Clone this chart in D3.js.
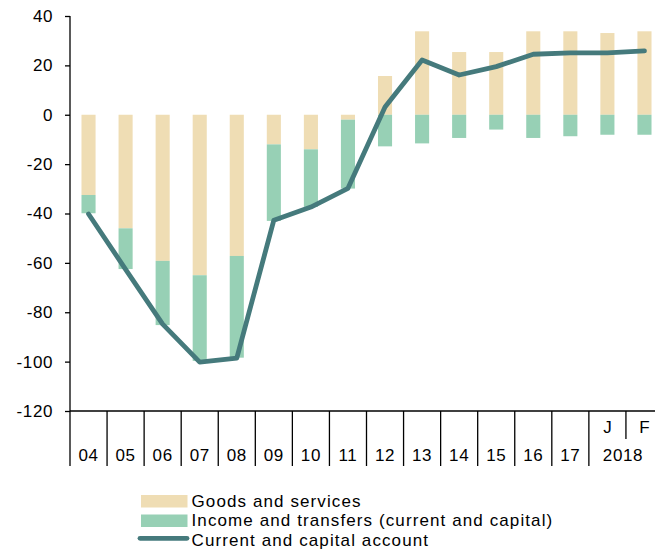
<!DOCTYPE html>
<html>
<head>
<meta charset="utf-8">
<script src="https://cdn.jsdelivr.net/npm/d3@7"></script>
<style>
  html, body { margin: 0; padding: 0; background: #fff; }
  svg { display: block; }
  text { font-family: "Liberation Sans", Arial, sans-serif; fill: #000; }
</style>
</head>
<body>
<svg id="chart" width="655" height="551"></svg>
<script>
const categories = ["04","05","06","07","08","09","10","11","12","13","14","15","16","17","J","F"];
const goods   = [-32.5,-46,-59.2,-65,-57.2,-12,-14,-2,15.7,33.8,25.4,25.4,33.8,33.8,33.1,33.8];
const income  = [-7.4,-16.5,-26,-34.7,-41.2,-31,-23.3,-27.9,-12.8,-11.6,-9.4,-6,-9.4,-8.7,-8.1,-8.1];
const current = [-40.2,-62.6,-84.8,-100.2,-98.6,-42.7,-37.4,-29.8,3.1,22.2,16.1,19.5,24.5,25.1,25.1,25.9];
const yTicks  = [40,20,0,-20,-40,-60,-80,-100,-120];
const yearLabels = ["04","05","06","07","08","09","10","11","12","13","14","15","16","17"];
const monthLabels = ["J","F"];
const groupLabel = "2018";
const seriesNames = ["Goods and services","Income and transfers (current and capital)","Current and capital account"];

const colGoods = "#EFDDB4", colIncome = "#97D0B5", colLine = "#457A7C";

const svg = d3.select("#chart");
const x0 = 70, x1 = 663, yTop = 16, yBot = 411;
const axFont = 17, axSpacing = 0.6;

const slot = d3.scaleBand().domain(categories).range([x0, x1]).padding(0);
const x = d3.scaleBand().domain(categories).range([x0, x1]).paddingInner(0.62).paddingOuter(0.31);
const y = d3.scaleLinear().domain([-120, 40]).range([yBot, yTop]);

const rows = categories.map((c, i) => ({cat: c, goods: goods[i], income: income[i]}));
const stack = d3.stack().keys(["goods","income"]).offset(d3.stackOffsetDiverging);
const layers = stack(rows);
const colors = {goods: colGoods, income: colIncome};

svg.append("g").selectAll("g").data(layers).join("g")
  .attr("fill", d => colors[d.key])
  .selectAll("rect").data(d => d).join("rect")
  .attr("x", d => x(d.data.cat))
  .attr("width", x.bandwidth())
  .attr("y", d => y(Math.max(d[0], d[1])))
  .attr("height", d => Math.abs(y(d[0]) - y(d[1])));

// line
const line = d3.line()
  .x((d, i) => x(categories[i]) + x.bandwidth() / 2)
  .y(d => y(d));
svg.append("path").datum(current)
  .attr("d", line)
  .attr("fill", "none")
  .attr("stroke", colLine)
  .attr("stroke-width", 4.8)
  .attr("stroke-linejoin", "round")
  .attr("stroke-linecap", "round");

// y axis
const yAxis = d3.axisLeft(y).tickValues(yTicks).tickSize(5).tickPadding(12).tickFormat(d => String(d));
const gy = svg.append("g").attr("transform", `translate(${x0},0)`).call(yAxis);
gy.select(".domain").remove();
gy.selectAll(".tick line").attr("stroke", "#000").attr("stroke-width", 1.3);
gy.selectAll(".tick text").attr("font-size", axFont).attr("letter-spacing", axSpacing)
  .attr("font-family", "Liberation Sans, Arial, sans-serif").attr("fill", "#000");
svg.append("line").attr("x1", x0).attr("x2", x0).attr("y1", yTop).attr("y2", 466)
  .attr("stroke", "#000").attr("stroke-width", 1.3);

// x axis line
svg.append("line").attr("x1", x0).attr("x2", x1).attr("y1", yBot).attr("y2", yBot)
  .attr("stroke", "#000").attr("stroke-width", 1.3);

// category boundaries
const bounds = yearLabels.map(c => slot(c) + slot.bandwidth());
svg.append("g").selectAll("line").data(bounds).join("line")
  .attr("x1", d => d).attr("x2", d => d).attr("y1", yBot).attr("y2", 466)
  .attr("stroke", "#000").attr("stroke-width", 1.3);
// J/F divider
svg.append("line")
  .attr("x1", slot("F")).attr("x2", slot("F")).attr("y1", yBot).attr("y2", 439)
  .attr("stroke", "#000").attr("stroke-width", 1.3);

svg.append("g").selectAll("text").data(yearLabels).join("text")
  .attr("x", d => slot(d) + slot.bandwidth() / 2)
  .attr("y", 460.5)
  .attr("text-anchor", "middle").attr("font-size", axFont).attr("letter-spacing", axSpacing)
  .text(d => d);
svg.append("g").selectAll("text").data(monthLabels).join("text")
  .attr("x", d => slot(d) + slot.bandwidth() / 2)
  .attr("y", 433)
  .attr("text-anchor", "middle").attr("font-size", axFont)
  .text(d => d);
svg.append("text").attr("x", slot("F") - 3).attr("y", 460.5)
  .attr("text-anchor", "middle").attr("font-size", axFont).attr("letter-spacing", axSpacing).text(groupLabel);

// legend
const leg = svg.append("g");
leg.append("rect").attr("x", 141).attr("y", 495).attr("width", 46.5).attr("height", 12.5).attr("fill", colGoods);
leg.append("rect").attr("x", 141).attr("y", 514.5).attr("width", 46.5).attr("height", 12.5).attr("fill", colIncome);
leg.append("line").attr("x1", 140).attr("x2", 187).attr("y1", 538.3).attr("y2", 538.3)
  .attr("stroke", colLine).attr("stroke-width", 4.8).attr("stroke-linecap", "round");
const legY = [506.6, 525.8, 545.5];
leg.selectAll("text.l").data(seriesNames).join("text").attr("class", "l")
  .attr("x", 191.5).attr("y", (d, i) => legY[i]).attr("font-size", 17).attr("letter-spacing", 1.1)
  .text(d => d);
</script>
</body>
</html>
